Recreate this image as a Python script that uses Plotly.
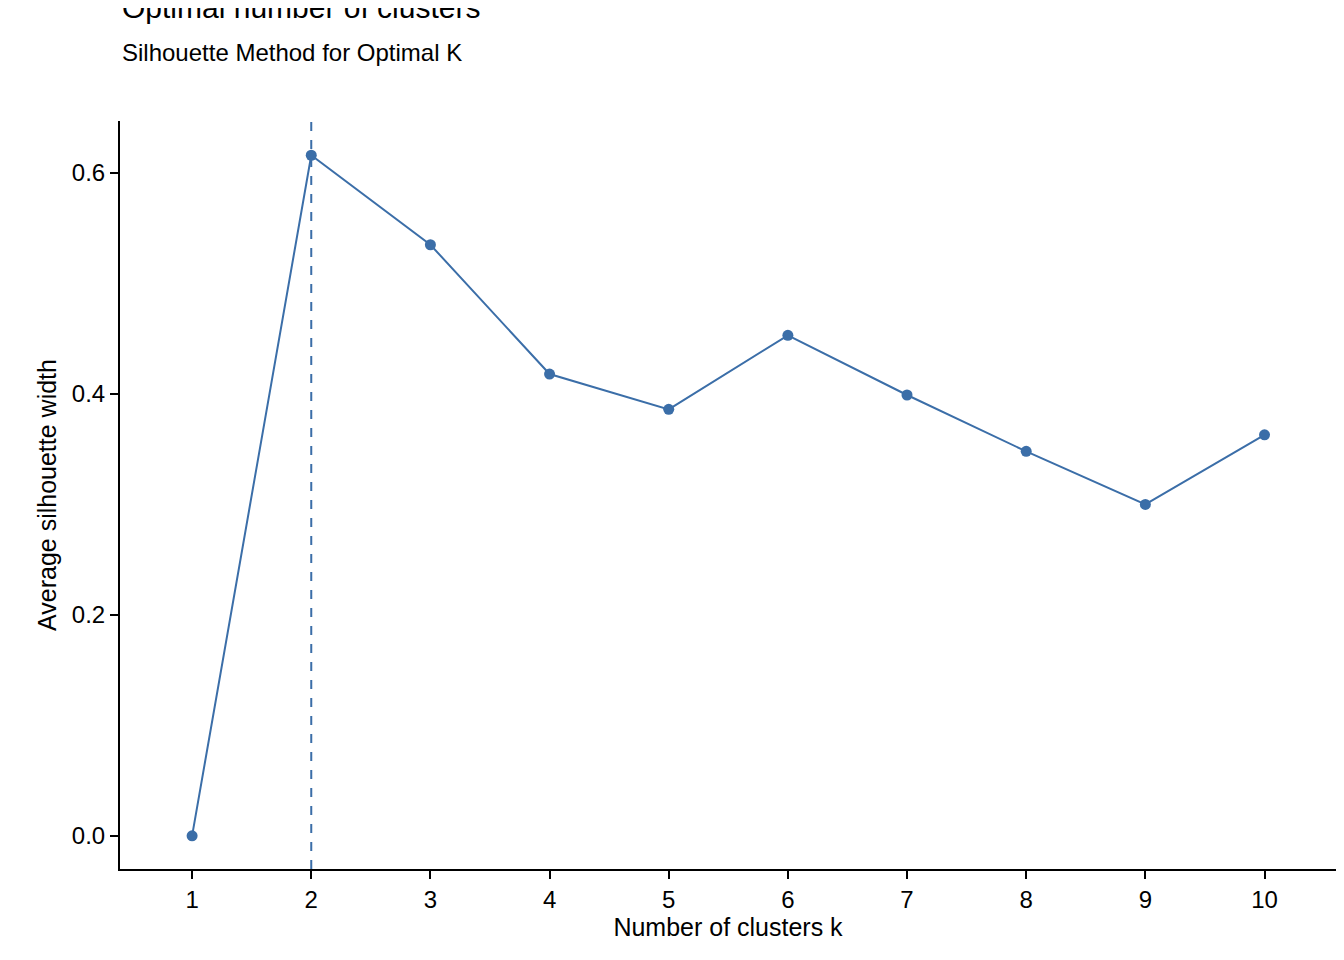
import plotly.graph_objects as go

k_values = [1, 2, 3, 4, 5, 6, 7, 8, 9, 10]
silhouette = [0.0, 0.616, 0.535, 0.418, 0.386, 0.453, 0.399, 0.348, 0.300, 0.363]
optimal_k = 2

color = "#3b6ea8"
font = "Liberation Sans, Arial, sans-serif"

fig = go.Figure()
fig.add_trace(go.Scatter(
    x=k_values, y=silhouette, mode="lines+markers",
    line=dict(color=color, width=2),
    marker=dict(color=color, size=11),
    showlegend=False,
))
fig.add_vline(x=optimal_k, line=dict(color=color, width=2, dash="dash"))

# titles as paper annotations, placed above the plot area
fig.add_annotation(text="Optimal number of clusters", xref="paper", yref="paper",
                   x=0, y=1, yshift=95, xanchor="left", yanchor="bottom",
                   showarrow=False, font=dict(size=30, color="black"))
fig.add_annotation(text="Silhouette Method for Optimal K", xref="paper", yref="paper",
                   x=0, y=1, yshift=53, xanchor="left", yanchor="bottom",
                   showarrow=False, font=dict(size=24, color="black"))

fig.update_layout(
    width=1344, height=960,
    plot_bgcolor="white", paper_bgcolor="white",
    margin=dict(l=112, r=16, t=113, b=99),
    font=dict(family=font, size=24, color="black"),
    xaxis=dict(
        title=dict(text="Number of clusters k", standoff=6, font=dict(size=25)),
        range=[0.395, 10.6], tickvals=k_values, tickfont=dict(size=24),
        showline=True, linecolor="black", linewidth=2, mirror=False,
        ticks="outside", ticklen=8, tickcolor="black", tickwidth=2,
        showgrid=False, zeroline=False,
    ),
    yaxis=dict(
        title=dict(text="Average silhouette width", standoff=8, font=dict(size=25)),
        range=[-0.03, 0.647], tickvals=[0.0, 0.2, 0.4, 0.6], tickformat=".1f",
        tickfont=dict(size=24),
        showline=True, linecolor="black", linewidth=2,
        ticks="outside", ticklen=8, tickcolor="black", tickwidth=2,
        showgrid=False, zeroline=False,
    ),
)

fig.write_html("out.html")
